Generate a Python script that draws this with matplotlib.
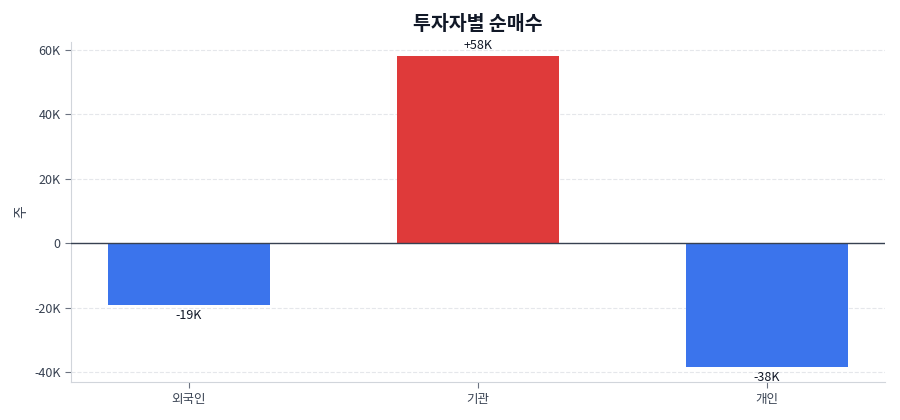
import matplotlib
matplotlib.use('Agg')
import matplotlib.pyplot as plt
from matplotlib.ticker import FuncFormatter

plt.rcParams['font.family'] = ['Noto Sans CJK KR', 'DejaVu Sans']

investors = ['외국인', '기관', '개인']
net_buy = [-19200, 58000, -38500]
value_labels = ['-19K', '+58K', '-38K']

BLUE = '#3b74ec'
RED = '#df3a3a'

def k_fmt(v, pos):
    if v == 0:
        return '0'
    return f'{int(v / 1000)}K'

fig, ax = plt.subplots(figsize=(9, 4.2), dpi=100)
colors = [RED if v > 0 else BLUE for v in net_buy]
x = range(len(investors))
bars = ax.bar(x, net_buy, width=0.56, color=colors, zorder=2)

for b, v, lbl in zip(bars, net_buy, value_labels):
    if v >= 0:
        ax.annotate(lbl, (b.get_x() + b.get_width() / 2, v), xytext=(0, 3),
                    textcoords='offset points', ha='center', va='bottom', fontsize=9, color='#111827')
    else:
        ax.annotate(lbl, (b.get_x() + b.get_width() / 2, v), xytext=(0, -3),
                    textcoords='offset points', ha='center', va='top', fontsize=9, color='#111827')

ax.axhline(0, color='#374151', linewidth=1.0, zorder=3)
ax.set_xticks(list(x))
ax.set_xticklabels(investors)
ax.set_ylim(min(net_buy) * 1.12, max(net_buy) * 1.075)
ax.set_yticks([-40000, -20000, 0, 20000, 40000, 60000])
ax.yaxis.set_major_formatter(FuncFormatter(k_fmt))
ax.set_ylabel('주', fontsize=10, color='#374151')
ax.set_title('투자자별 순매수', fontsize=14, fontweight='bold', color='#111827', pad=9)

ax.grid(axis='y', linestyle='--', color='#e5e7eb', linewidth=0.8, zorder=0)
ax.spines['top'].set_visible(False)
ax.spines['right'].set_visible(False)
ax.spines['left'].set_color('#d1d5db')
ax.spines['bottom'].set_color('#d1d5db')
ax.tick_params(colors='#374151', labelsize=9)
ax.tick_params(axis='x', length=4, color='#6b7280')
ax.tick_params(axis='y', length=4, color='#6b7280')

plt.subplots_adjust(left=0.079, right=0.983, top=0.9, bottom=0.09)
plt.savefig('out.png', dpi=100)
